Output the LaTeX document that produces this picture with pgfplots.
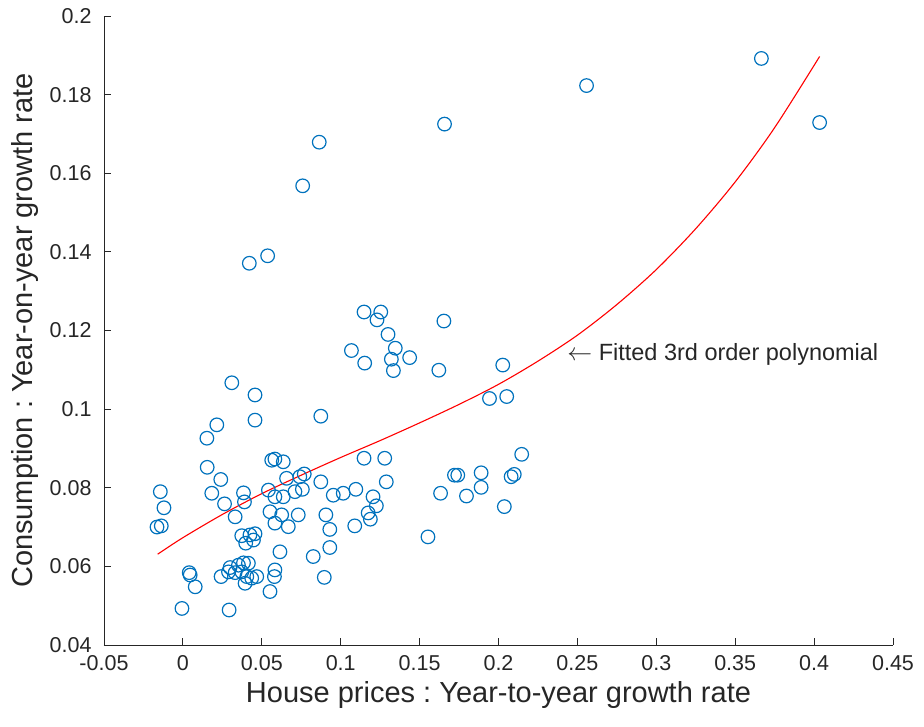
\documentclass[border=0pt]{standalone}
\usepackage{pgfplots}
\pgfplotsset{compat=1.18}
\usepackage{fontspec}
\setmainfont{Liberation Sans}
\frenchspacing
\definecolor{mblue}{RGB}{0,114,189}
\definecolor{axgray}{RGB}{38,38,38}
\begin{document}
\begin{tikzpicture}
\begin{axis}[
    width=789pt, height=629pt, scale only axis,
    xmin=-0.05, xmax=0.45, ymin=0.04, ymax=0.2,
    axis lines*=left,
    axis line style={axgray, line width=0.8pt},
    tick style={axgray, line width=0.8pt},
    tick align=inside,
    major tick length=7pt,
    xtick={-0.05,0,0.05,0.1,0.15,0.2,0.25,0.3,0.35,0.4,0.45},
    xticklabels={-0.05,0,0.05,0.1,0.15,0.2,0.25,0.3,0.35,0.4,0.45},
    ytick={0.04,0.06,0.08,0.1,0.12,0.14,0.16,0.18,0.2},
    yticklabels={0.04,0.06,0.08,0.1,0.12,0.14,0.16,0.18,0.2},
    ticklabel style={font=\fontsize{21.5}{24}\selectfont, text=axgray},
    xticklabel style={yshift=-7pt},
    yticklabel style={xshift=-9pt},
    xlabel={House prices : Year-to-year growth rate},
    ylabel={Consumption : Year-on-year growth rate},
    label style={font=\fontsize{29}{33}\selectfont, text=axgray},
    xlabel style={yshift=-4pt},
    ylabel style={yshift=4pt},
    clip=false,
]
\addplot[only marks, mark=o, mark size=6.8pt, mblue, line width=1.2pt] coordinates {
(-0.0164,0.0700) (-0.0137,0.0703) (-0.0143,0.0790) (-0.0120,0.0749)
(-0.0006,0.0493) (0.0040,0.0584) (0.0046,0.0578) (0.0078,0.0548)
(0.0152,0.0926) (0.0215,0.0960) (0.0154,0.0852) (0.0240,0.0821)
(0.0183,0.0786) (0.0264,0.0759) (0.0331,0.0726) (0.0310,0.1067)
(0.0457,0.1036) (0.0457,0.0972) (0.0384,0.0787) (0.0390,0.0764)
(0.0373,0.0678) (0.0425,0.0680) (0.0398,0.0659) (0.0457,0.0683)
(0.0447,0.0667) (0.0242,0.0574) (0.0299,0.0597) (0.0289,0.0586)
(0.0331,0.0584) (0.0352,0.0603) (0.0384,0.0609) (0.0415,0.0608)
(0.0373,0.0586) (0.0405,0.0574) (0.0394,0.0557) (0.0436,0.0570)
(0.0468,0.0574) (0.0293,0.0489) (0.0552,0.0536) (0.0583,0.0591)
(0.0580,0.0574) (0.0615,0.0637) (0.0542,0.0794) (0.0583,0.0873)
(0.0563,0.0870) (0.0636,0.0866) (0.0657,0.0824) (0.0583,0.0777)
(0.0552,0.0739) (0.0626,0.0731) (0.0583,0.0710) (0.0668,0.0701)
(0.0731,0.0731) (0.0636,0.0777) (0.0710,0.0790) (0.0741,0.0828)
(0.1658,0.1725) (0.0864,0.1679) (0.0759,0.1568) (0.0421,0.1371)
(0.0537,0.1390) (0.1148,0.1247) (0.1254,0.1247) (0.1230,0.1227)
(0.1300,0.1190) (0.1346,0.1155) (0.1068,0.1149) (0.1152,0.1117)
(0.1321,0.1127) (0.1437,0.1131) (0.1334,0.1098) (0.1654,0.1224)
(0.1622,0.1099) (0.2027,0.1112) (0.3666,0.1892) (0.2558,0.1823)
(0.4035,0.1729) (0.1943,0.1027) (0.2052,0.1032) (0.2147,0.0885)
(0.1721,0.0832) (0.1742,0.0832) (0.1890,0.0838) (0.2080,0.0828)
(0.2100,0.0834) (0.1633,0.0786) (0.1797,0.0779) (0.1890,0.0801)
(0.2037,0.0752) (0.0874,0.0982) (0.1148,0.0875) (0.1279,0.0875)
(0.1289,0.0815) (0.0769,0.0835) (0.0874,0.0815) (0.0757,0.0796)
(0.0953,0.0781) (0.1016,0.0786) (0.1096,0.0796) (0.1205,0.0777)
(0.1226,0.0754) (0.1174,0.0736) (0.1188,0.0720) (0.0906,0.0731)
(0.0931,0.0694) (0.1089,0.0703) (0.0931,0.0648) (0.0826,0.0625)
(0.0896,0.0572) (0.1553,0.0675)
};
\addplot[red, line width=1.1pt, smooth] coordinates {
(-0.016,0.0631) (0.000,0.0673) (0.025,0.0732) (0.050,0.0785)
(0.075,0.0832) (0.100,0.0877) (0.125,0.0920) (0.150,0.0965)
(0.175,0.1012) (0.200,0.1063) (0.225,0.1122) (0.250,0.1188)
(0.275,0.1266) (0.300,0.1355) (0.325,0.1459) (0.350,0.1578)
(0.375,0.1716) (0.4035,0.1897)
};
\node[anchor=west, inner sep=0pt, text=axgray, font=\fontsize{23.5}{27}\selectfont]
    at (axis cs:0.2435,0.1138) {$\leftarrow$ Fitted 3rd order polynomial};
\end{axis}
\pgfresetboundingbox
\path[use as bounding box] (-104pt,-82pt) rectangle (820pt,645pt);
\end{tikzpicture}
\end{document}
